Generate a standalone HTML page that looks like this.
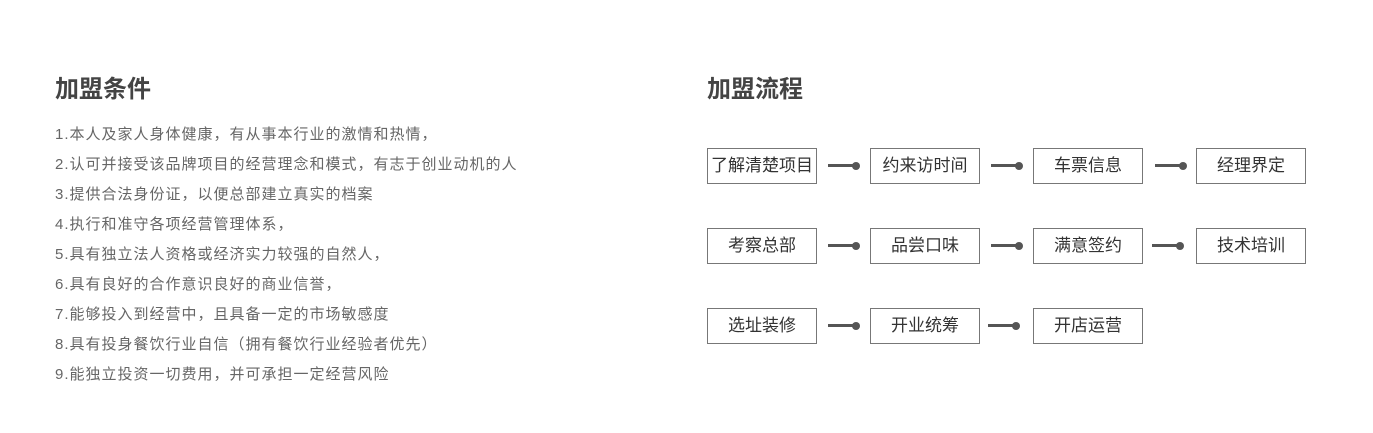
<!DOCTYPE html>
<html><head><meta charset="utf-8"><style>
body{margin:0;width:1373px;height:433px;background:#fff;position:relative;font-family:"Liberation Sans","Noto Sans CJK SC",sans-serif;overflow:hidden}
.t{position:absolute;font-size:24px;font-weight:bold;color:#444;top:69px}
.l{position:absolute;left:55px;font-size:15px;color:#666;white-space:nowrap;letter-spacing:1px}
.b{position:absolute;width:108px;height:34px;border:1px solid #777;box-sizing:content-box;text-align:center;line-height:34px;font-size:17px;color:#333}
.c{position:absolute;height:3px;background:#555;width:28px}
.c:after{content:"";position:absolute;right:-4px;top:-2.5px;width:8px;height:8px;border-radius:50%;background:#555}
</style></head><body>
<div class="t" style="left:55px">加盟条件</div>
<div class="t" style="left:707px">加盟流程</div>
<div class="l" style="top:123px">1.本人及家人身体健康，有从事本行业的激情和热情，</div>
<div class="l" style="top:153px">2.认可并接受该品牌项目的经营理念和模式，有志于创业动机的人</div>
<div class="l" style="top:183px">3.提供合法身份证，以便总部建立真实的档案</div>
<div class="l" style="top:213px">4.执行和准守各项经营管理体系，</div>
<div class="l" style="top:243px">5.具有独立法人资格或经济实力较强的自然人，</div>
<div class="l" style="top:273px">6.具有良好的合作意识良好的商业信誉，</div>
<div class="l" style="top:303px">7.能够投入到经营中，且具备一定的市场敏感度</div>
<div class="l" style="top:333px">8.具有投身餐饮行业自信（拥有餐饮行业经验者优先）</div>
<div class="l" style="top:363px">9.能独立投资一切费用，并可承担一定经营风险</div>

<div class="b" style="left:707px;top:148px">了解清楚项目</div>
<div class="b" style="left:870px;top:148px">约来访时间</div>
<div class="b" style="left:1033px;top:148px">车票信息</div>
<div class="b" style="left:1196px;top:148px">经理界定</div>
<div class="c" style="left:828px;top:164px"></div>
<div class="c" style="left:991px;top:164px"></div>
<div class="c" style="left:1155px;top:164px"></div>

<div class="b" style="left:707px;top:228px">考察总部</div>
<div class="b" style="left:870px;top:228px">品尝口味</div>
<div class="b" style="left:1033px;top:228px">满意签约</div>
<div class="b" style="left:1196px;top:228px">技术培训</div>
<div class="c" style="left:828px;top:244px"></div>
<div class="c" style="left:991px;top:244px"></div>
<div class="c" style="left:1152px;top:244px"></div>

<div class="b" style="left:707px;top:308px">选址装修</div>
<div class="b" style="left:870px;top:308px">开业统筹</div>
<div class="b" style="left:1033px;top:308px">开店运营</div>
<div class="c" style="left:828px;top:324px"></div>
<div class="c" style="left:988px;top:324px"></div>
</body></html>
